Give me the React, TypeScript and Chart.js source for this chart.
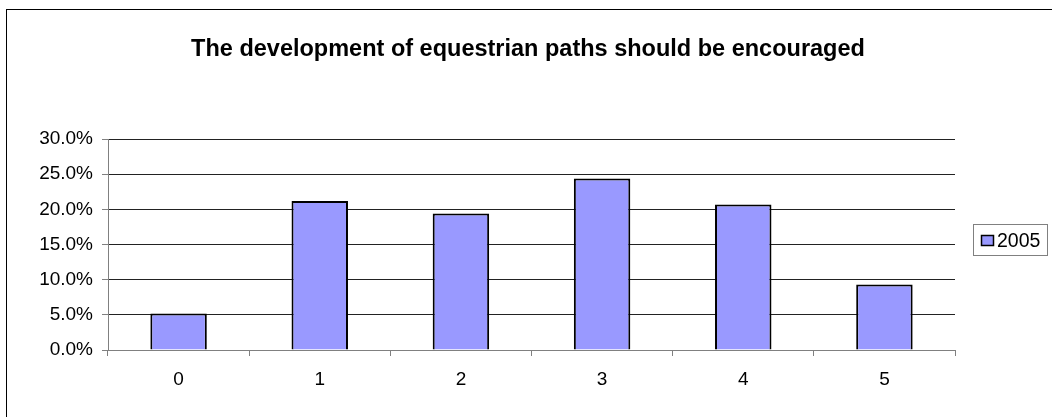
import React, { useEffect, useRef } from 'react';
import { Chart, registerables } from 'chart.js';

Chart.register(...registerables);

const categories: string[] = ['0', '1', '2', '3', '4', '5'];
const values2005: number[] = [5.2, 21.2, 19.4, 24.4, 20.7, 9.3];
const yTickValues: number[] = [0, 5, 10, 15, 20, 25, 30];
const seriesName = '2005';
const chartTitle = 'The development of equestrian paths should be encouraged';

const FONT = 'Arial, "Liberation Sans", sans-serif';
const BAR_COLOR = '#9999FF';

const decorPlugin = {
  id: 'decor',
  beforeDraw(chart: any) {
    const ctx = chart.ctx;
    ctx.save();
    ctx.fillStyle = '#ffffff';
    ctx.fillRect(0, 0, chart.width, chart.height);
    ctx.restore();
  },
  afterDraw(chart: any) {
    const ctx = chart.ctx;
    ctx.save();
    // outer frame
    ctx.strokeStyle = '#000000';
    ctx.lineWidth = 1;
    ctx.strokeRect(6.5, 9.5, chart.width + 20, chart.height + 20);
    // title
    ctx.fillStyle = '#000000';
    ctx.font = `bold 23.5px ${FONT}`;
    ctx.textAlign = 'center';
    ctx.textBaseline = 'alphabetic';
    ctx.fillText(chartTitle, 528, 56);
    // legend
    ctx.strokeStyle = '#808080';
    ctx.lineWidth = 1;
    ctx.strokeRect(973.5, 224.5, 74, 31);
    ctx.fillStyle = BAR_COLOR;
    ctx.fillRect(981, 235, 13, 11);
    ctx.strokeStyle = '#000000';
    ctx.lineWidth = 1.5;
    ctx.strokeRect(981.5, 235.5, 12, 10);
    ctx.fillStyle = '#000000';
    ctx.font = `19.5px ${FONT}`;
    ctx.textAlign = 'left';
    ctx.textBaseline = 'alphabetic';
    ctx.fillText(seriesName, 997, 247);
    ctx.restore();
  },
};

export default function App() {
  const canvasRef = useRef<HTMLCanvasElement | null>(null);

  useEffect(() => {
    if (!canvasRef.current) return;
    const chart = new Chart(canvasRef.current, {
      type: 'bar',
      data: {
        labels: categories,
        datasets: [
          {
            label: seriesName,
            data: values2005,
            backgroundColor: BAR_COLOR,
            borderColor: '#000000',
            borderWidth: 2,
            barPercentage: 0.4,
            categoryPercentage: 1,
          },
        ],
      },
      options: {
        animation: false,
        responsive: false,
        maintainAspectRatio: false,
        devicePixelRatio: 1,
        layout: { padding: { left: 38, right: 97, top: 139, bottom: 27 } },
        plugins: {
          legend: { display: false },
          title: { display: false },
          tooltip: { enabled: false },
        },
        scales: {
          x: {
            offset: true,
            afterFit: (s: any) => {
              s.height = 40;
            },
            grid: {
              offset: true,
              drawOnChartArea: false,
              drawTicks: true,
              tickLength: 6,
              color: '#808080',
              lineWidth: 1,
            },
            border: { color: '#808080', width: 1 },
            ticks: {
              color: '#000000',
              font: { family: FONT, size: 19 },
              padding: 12,
              maxRotation: 0,
            },
          },
          y: {
            min: 0,
            max: 30,
            afterFit: (s: any) => {
              s.width = 70;
            },
            afterBuildTicks: (s: any) => {
              s.ticks = yTickValues.map((v) => ({ value: v }));
            },
            grid: {
              color: '#222222',
              lineWidth: 1,
              drawTicks: true,
              tickLength: 6,
              tickColor: '#808080',
            },
            border: { color: '#808080', width: 1 },
            ticks: {
              color: '#000000',
              font: { family: FONT, size: 19 },
              padding: 9,
              callback: (v: any) => Number(v).toFixed(1) + '%',
            },
          },
        },
      },
      plugins: [decorPlugin],
    });
    return () => chart.destroy();
  }, []);

  return (
    <div style={{ position: 'fixed', left: 0, top: 0, width: 1052, height: 417 }}>
      <canvas ref={canvasRef} width={1052} height={417} style={{ width: 1052, height: 417 }} />
    </div>
  );
}
